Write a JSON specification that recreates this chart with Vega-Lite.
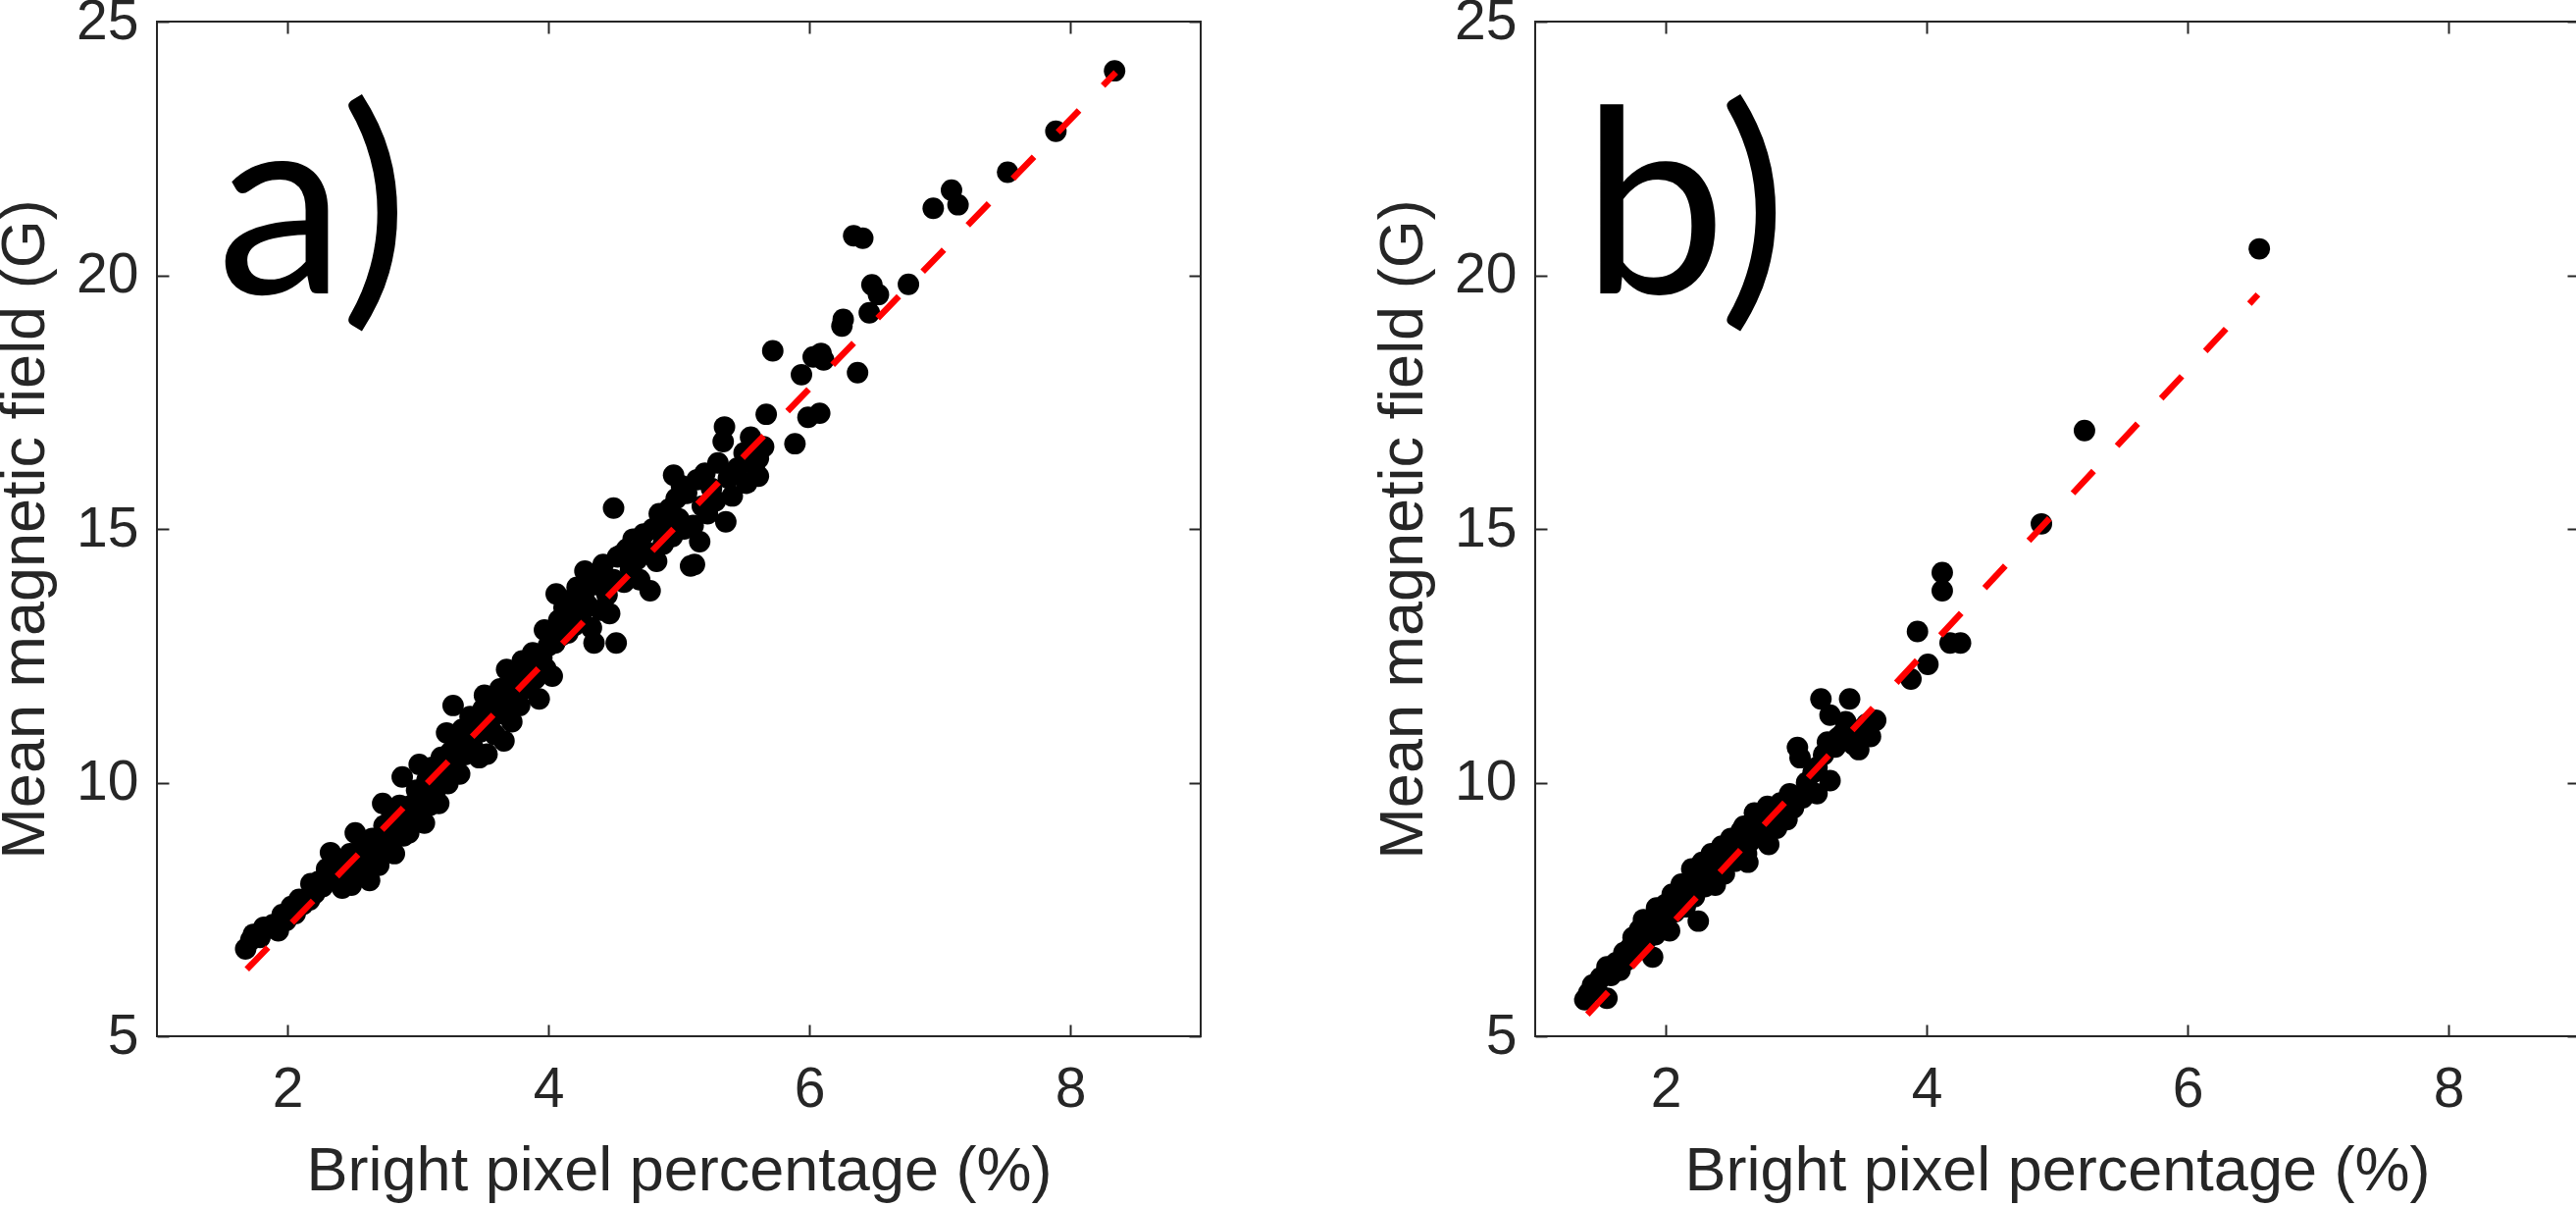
{
  "$schema": "https://vega.github.io/schema/vega-lite/v6.json",
  "background": "white",
  "padding": {"left": -7, "top": -8, "right": 0, "bottom": 0},
  "datasets": {
    "a_pts": [
      {"x":1.68,"y":6.72},{"x":1.72,"y":6.90},{"x":1.74,"y":7.01},{"x":1.79,"y":6.95},{"x":1.82,"y":7.15},
      {"x":1.89,"y":7.20},{"x":1.93,"y":7.08},{"x":1.96,"y":7.40},{"x":1.99,"y":7.28},{"x":2.03,"y":7.56},
      {"x":2.06,"y":7.42},{"x":2.09,"y":7.70},{"x":2.12,"y":7.60},{"x":2.17,"y":7.69},{"x":2.18,"y":8.01},
      {"x":2.21,"y":7.82},{"x":2.24,"y":8.05},{"x":2.27,"y":7.95},{"x":2.30,"y":8.30},{"x":2.33,"y":8.62},
      {"x":2.35,"y":8.20},{"x":2.38,"y":8.05},{"x":2.40,"y":8.45},{"x":2.42,"y":7.92},{"x":2.45,"y":8.35},
      {"x":2.48,"y":8.60},{"x":2.49,"y":7.98},{"x":2.51,"y":8.20},{"x":2.52,"y":9.01},{"x":2.55,"y":8.45},
      {"x":2.57,"y":8.75},{"x":2.60,"y":8.25},{"x":2.62,"y":8.55},{"x":2.63,"y":8.07},{"x":2.65,"y":8.90},
      {"x":2.67,"y":8.40},{"x":2.70,"y":8.37},{"x":2.71,"y":8.75},{"x":2.73,"y":9.59},{"x":2.74,"y":9.15},
      {"x":2.76,"y":8.95},{"x":2.78,"y":8.70},{"x":2.80,"y":9.35},{"x":2.82,"y":8.60},{"x":2.84,"y":9.10},
      {"x":2.86,"y":9.55},{"x":2.88,"y":10.11},{"x":2.89,"y":8.95},{"x":2.91,"y":9.30},{"x":2.93,"y":9.01},
      {"x":2.95,"y":9.55},{"x":2.97,"y":9.20},{"x":2.99,"y":9.85},{"x":3.01,"y":10.36},{"x":3.02,"y":9.40},
      {"x":3.04,"y":9.75},{"x":3.05,"y":9.20},{"x":3.07,"y":10.05},{"x":3.09,"y":9.55},{"x":3.11,"y":10.30},
      {"x":3.13,"y":9.80},{"x":3.15,"y":10.00},{"x":3.16,"y":9.59},{"x":3.18,"y":10.50},{"x":3.20,"y":10.15},
      {"x":3.22,"y":10.98},{"x":3.23,"y":9.98},{"x":3.25,"y":10.60},{"x":3.27,"y":11.52},{"x":3.28,"y":10.35},
      {"x":3.30,"y":10.80},{"x":3.32,"y":10.17},{"x":3.34,"y":11.05},{"x":3.36,"y":10.55},{"x":3.38,"y":10.85},
      {"x":3.40,"y":11.30},{"x":3.42,"y":10.70},{"x":3.44,"y":11.15},{"x":3.47,"y":10.49},{"x":3.48,"y":11.00},
      {"x":3.50,"y":11.45},{"x":3.51,"y":11.72},{"x":3.53,"y":10.56},{"x":3.55,"y":11.10},{"x":3.57,"y":11.60},
      {"x":3.59,"y":10.95},{"x":3.61,"y":11.35},{"x":3.63,"y":11.85},{"x":3.66,"y":10.82},{"x":3.67,"y":11.55},
      {"x":3.68,"y":12.23},{"x":3.70,"y":11.90},{"x":3.72,"y":11.20},{"x":3.74,"y":12.10},{"x":3.76,"y":11.70},
      {"x":3.78,"y":11.52},{"x":3.80,"y":12.40},{"x":3.82,"y":11.85},{"x":3.84,"y":12.20},{"x":3.86,"y":11.95},
      {"x":3.88,"y":12.56},{"x":3.90,"y":12.05},{"x":3.92,"y":12.35},{"x":3.93,"y":11.65},{"x":3.95,"y":12.45},
      {"x":3.97,"y":13.01},{"x":3.98,"y":12.25},{"x":4.00,"y":12.70},{"x":4.03,"y":12.10},{"x":4.05,"y":12.75},
      {"x":4.06,"y":13.72},{"x":4.08,"y":13.20},{"x":4.10,"y":12.90},{"x":4.12,"y":13.45},{"x":4.15,"y":12.95},
      {"x":4.17,"y":13.60},{"x":4.20,"y":13.10},{"x":4.22,"y":13.85},{"x":4.25,"y":13.30},{"x":4.27,"y":13.70},
      {"x":4.28,"y":14.17},{"x":4.30,"y":13.50},{"x":4.33,"y":13.05},{"x":4.35,"y":12.75},{"x":4.36,"y":13.90},
      {"x":4.38,"y":14.10},{"x":4.40,"y":13.40},{"x":4.42,"y":14.30},{"x":4.45,"y":13.70},{"x":4.47,"y":13.33},
      {"x":4.50,"y":15.41},{"x":4.50,"y":14.00},{"x":4.52,"y":12.75},{"x":4.53,"y":14.45},{"x":4.56,"y":14.49},
      {"x":4.58,"y":13.95},{"x":4.60,"y":14.60},{"x":4.63,"y":14.20},{"x":4.65,"y":14.80},{"x":4.68,"y":14.40},
      {"x":4.70,"y":14.00},{"x":4.73,"y":14.90},{"x":4.75,"y":14.55},{"x":4.78,"y":13.78},{"x":4.80,"y":15.00},
      {"x":4.83,"y":14.36},{"x":4.85,"y":15.30},{"x":4.88,"y":14.70},{"x":4.90,"y":15.10},{"x":4.93,"y":15.40},
      {"x":4.95,"y":14.85},{"x":4.96,"y":16.06},{"x":4.98,"y":15.60},{"x":5.00,"y":15.20},{"x":5.02,"y":15.85},
      {"x":5.04,"y":15.00},{"x":5.06,"y":15.70},{"x":5.09,"y":14.27},{"x":5.11,"y":15.07},{"x":5.12,"y":14.30},
      {"x":5.14,"y":15.97},{"x":5.16,"y":14.75},{"x":5.18,"y":15.45},{"x":5.20,"y":16.10},{"x":5.22,"y":15.30},
      {"x":5.25,"y":15.80},{"x":5.28,"y":15.55},{"x":5.30,"y":16.30},{"x":5.34,"y":16.72},{"x":5.35,"y":17.01},
      {"x":5.36,"y":15.14},{"x":5.38,"y":16.00},{"x":5.41,"y":15.65},{"x":5.45,"y":16.20},{"x":5.50,"y":16.50},
      {"x":5.52,"y":15.90},{"x":5.55,"y":16.81},{"x":5.58,"y":16.25},{"x":5.61,"y":16.39},{"x":5.61,"y":16.04},
      {"x":5.65,"y":16.62},{"x":5.67,"y":17.26},{"x":5.72,"y":18.51},{"x":5.89,"y":16.68},{"x":5.94,"y":18.04},
      {"x":5.99,"y":17.20},{"x":6.03,"y":18.39},{"x":6.08,"y":17.28},{"x":6.09,"y":18.46},{"x":6.11,"y":18.33},
      {"x":6.25,"y":19.00},{"x":6.26,"y":19.13},{"x":6.37,"y":18.08},{"x":6.46,"y":19.26},{"x":6.48,"y":19.81},
      {"x":6.53,"y":19.62},{"x":6.76,"y":19.82},{"x":6.34,"y":20.78},{"x":6.41,"y":20.73},{"x":6.95,"y":21.32},
      {"x":7.09,"y":21.68},{"x":7.14,"y":21.39},{"x":7.52,"y":22.03},{"x":7.89,"y":22.84},{"x":8.34,"y":24.03}
    ],
    "b_pts": [
      {"x":1.38,"y":5.72},{"x":1.41,"y":5.85},{"x":1.44,"y":6.01},{"x":1.47,"y":5.95},{"x":1.50,"y":6.15},
      {"x":1.55,"y":5.75},{"x":1.55,"y":6.37},{"x":1.58,"y":6.20},{"x":1.62,"y":6.45},{"x":1.65,"y":6.30},
      {"x":1.68,"y":6.65},{"x":1.70,"y":6.50},{"x":1.73,"y":6.75},{"x":1.75,"y":6.95},{"x":1.78,"y":6.70},
      {"x":1.80,"y":7.10},{"x":1.83,"y":7.30},{"x":1.85,"y":6.90},{"x":1.88,"y":7.20},{"x":1.90,"y":6.56},
      {"x":1.92,"y":7.00},{"x":1.93,"y":7.53},{"x":1.96,"y":7.35},{"x":1.98,"y":7.15},{"x":2.00,"y":7.60},
      {"x":2.03,"y":7.08},{"x":2.05,"y":7.80},{"x":2.07,"y":7.45},{"x":2.10,"y":7.65},{"x":2.12,"y":8.00},
      {"x":2.15,"y":7.55},{"x":2.17,"y":7.90},{"x":2.20,"y":8.30},{"x":2.22,"y":7.75},{"x":2.25,"y":7.27},
      {"x":2.25,"y":8.10},{"x":2.28,"y":8.43},{"x":2.30,"y":7.95},{"x":2.33,"y":8.25},{"x":2.35,"y":8.60},
      {"x":2.38,"y":7.98},{"x":2.40,"y":8.40},{"x":2.43,"y":8.75},{"x":2.45,"y":8.20},{"x":2.48,"y":8.55},
      {"x":2.50,"y":8.90},{"x":2.53,"y":8.45},{"x":2.55,"y":8.70},{"x":2.58,"y":9.05},{"x":2.60,"y":9.14},
      {"x":2.62,"y":8.60},{"x":2.63,"y":8.43},{"x":2.65,"y":8.85},{"x":2.68,"y":9.40},{"x":2.70,"y":9.00},
      {"x":2.73,"y":9.25},{"x":2.75,"y":8.95},{"x":2.78,"y":9.53},{"x":2.79,"y":8.78},{"x":2.82,"y":9.30},
      {"x":2.85,"y":9.10},{"x":2.88,"y":9.60},{"x":2.90,"y":9.35},{"x":2.93,"y":9.27},{"x":2.95,"y":9.78},
      {"x":2.98,"y":9.50},{"x":3.01,"y":10.69},{"x":3.03,"y":10.49},{"x":3.05,"y":9.70},{"x":3.08,"y":10.00},
      {"x":3.10,"y":9.85},{"x":3.13,"y":10.20},{"x":3.16,"y":9.78},{"x":3.16,"y":10.30},{"x":3.19,"y":11.65},
      {"x":3.21,"y":10.55},{"x":3.24,"y":10.80},{"x":3.26,"y":10.04},{"x":3.26,"y":11.33},{"x":3.30,"y":10.70},
      {"x":3.32,"y":10.88},{"x":3.35,"y":10.95},{"x":3.38,"y":11.20},{"x":3.41,"y":11.65},{"x":3.44,"y":10.75},
      {"x":3.48,"y":10.65},{"x":3.50,"y":11.05},{"x":3.54,"y":11.15},{"x":3.57,"y":10.91},{"x":3.61,"y":11.23},
      {"x":3.88,"y":12.04},{"x":3.93,"y":12.98},{"x":4.01,"y":12.33},{"x":4.12,"y":13.78},{"x":4.12,"y":14.14},
      {"x":4.18,"y":12.75},{"x":4.26,"y":12.75},{"x":4.88,"y":15.10},{"x":5.21,"y":16.94},{"x":6.55,"y":20.52}
    ],
    "a_fit": [{"x":1.689,"y":6.32},{"x":8.35,"y":24.0}],
    "b_fit": [{"x":1.40,"y":5.43},{"x":6.54,"y":19.62}]
  },
  "config": {
    "view": {"stroke": "#262626", "strokeWidth": 2},
    "axis": {
      "domain": false,
      "grid": false,
      "tickColor": "#262626",
      "tickWidth": 2,
      "tickSize": -12,
      "labelFont": "Liberation Sans",
      "labelFontSize": 57,
      "labelColor": "#262626",
      "titleFont": "Liberation Sans",
      "titleFontSize": 63,
      "titleColor": "#262626",
      "titleFontWeight": "normal"
    }
  },
  "spacing": 172,
  "hconcat": [
    {
      "width": 1064,
      "height": 1034,
      "layer": [
        {
          "data": {"name": "a_pts"},
          "mark": {"type": "circle", "size": 480, "color": "black", "opacity": 1},
          "encoding": {
            "x": {"field": "x", "type": "quantitative", "scale": {"domain": [1, 9], "nice": false, "zero": false},
                  "axis": {"orient": "bottom", "values": [2, 4, 6, 8], "title": "Bright pixel percentage (%)", "labelPadding": 38, "titlePadding": 24}},
            "y": {"field": "y", "type": "quantitative", "scale": {"domain": [5, 25], "nice": false, "zero": false},
                  "axis": {"orient": "left", "values": [5, 10, 15, 20, 25], "title": "Mean magnetic field (G)", "labelPadding": 31, "titlePadding": 20}}
          }
        },
        {
          "data": {"name": "a_fit"},
          "mark": {"type": "line", "color": "#ff0000", "strokeWidth": 6.5, "strokeDash": [31, 35], "strokeCap": "butt"},
          "encoding": {
            "x": {"field": "x", "type": "quantitative", "axis": {"orient": "top", "values": [2, 4, 6, 8], "labels": false, "title": null}},
            "y": {"field": "y", "type": "quantitative", "axis": {"orient": "right", "values": [5, 10, 15, 20, 25], "labels": false, "title": null}}
          }
        },
        {
          "data": {"values": [{"x": 1.46, "y": 19.64, "t": "a)"}]},
          "mark": {"type": "text", "font": "Lato", "fontSize": 262, "align": "left", "baseline": "alphabetic", "color": "black"},
          "encoding": {
            "x": {"field": "x", "type": "quantitative", "axis": null},
            "y": {"field": "y", "type": "quantitative", "axis": null},
            "text": {"field": "t"}
          }
        }
      ],
      "resolve": {"axis": {"x": "independent", "y": "independent"}}
    },
    {
      "width": 1064,
      "height": 1034,
      "layer": [
        {
          "data": {"name": "b_pts"},
          "mark": {"type": "circle", "size": 480, "color": "black", "opacity": 1},
          "encoding": {
            "x": {"field": "x", "type": "quantitative", "scale": {"domain": [1, 9], "nice": false, "zero": false},
                  "axis": {"orient": "bottom", "values": [2, 4, 6, 8], "title": "Bright pixel percentage (%)", "labelPadding": 38, "titlePadding": 24}},
            "y": {"field": "y", "type": "quantitative", "scale": {"domain": [5, 25], "nice": false, "zero": false},
                  "axis": {"orient": "left", "values": [5, 10, 15, 20, 25], "title": "Mean magnetic field (G)", "labelPadding": 31, "titlePadding": 20}}
          }
        },
        {
          "data": {"name": "b_fit"},
          "mark": {"type": "line", "color": "#ff0000", "strokeWidth": 6.5, "strokeDash": [31, 35], "strokeCap": "butt"},
          "encoding": {
            "x": {"field": "x", "type": "quantitative", "axis": {"orient": "top", "values": [2, 4, 6, 8], "labels": false, "title": null}},
            "y": {"field": "y", "type": "quantitative", "axis": {"orient": "right", "values": [5, 10, 15, 20, 25], "labels": false, "title": null}}
          }
        },
        {
          "data": {"values": [{"x": 1.36, "y": 19.64, "t": "b)"}]},
          "mark": {"type": "text", "font": "Lato", "fontSize": 262, "align": "left", "baseline": "alphabetic", "color": "black"},
          "encoding": {
            "x": {"field": "x", "type": "quantitative", "axis": null},
            "y": {"field": "y", "type": "quantitative", "axis": null},
            "text": {"field": "t"}
          }
        }
      ],
      "resolve": {"axis": {"x": "independent", "y": "independent"}}
    }
  ]
}
